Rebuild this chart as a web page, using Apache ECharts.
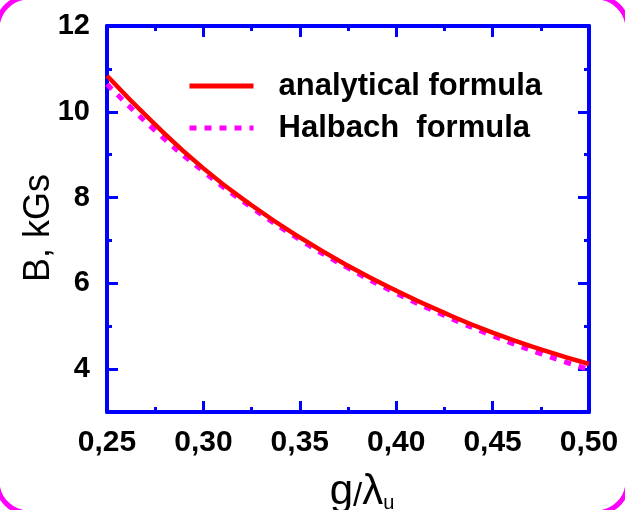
<!DOCTYPE html>
<html><head><meta charset="utf-8">
<script src="https://cdn.jsdelivr.net/npm/echarts@6/dist/echarts.min.js"></script>
<style>html,body{margin:0;padding:0;background:#fff}#c{width:625px;height:510px}</style>
</head><body><div id="c"></div>
<script>
// g / lambda_u values
const gOverLambda = [0.25, 0.275, 0.30, 0.325, 0.35, 0.375, 0.40, 0.425, 0.45, 0.475, 0.50];
// B, kGs
const analytical = [10.84, 9.70, 8.68, 7.82, 7.07, 6.41, 5.83, 5.31, 4.85, 4.46, 4.12];
const halbach    = [10.64, 9.56, 8.61, 7.77, 7.02, 6.36, 5.77, 5.25, 4.78, 4.36, 3.99];
const seriesNames = ['analytical formula', 'Halbach  formula'];
const yMajorTicks = [4, 6, 8, 10, 12];
const yMinorTicks = [5, 7, 9, 11];
const xMin = 0.25, xMax = 0.50, xStep = 0.05;
const yMin = 3, yMax = 12;

const blue = '#0000ff';
const font = 'Liberation Sans, Arial, sans-serif';
const pair = (xs, ys) => xs.map((x, i) => [x, ys[i]]);

function xAxisDef(pos, showLabel) {
  return {
    type: 'value', min: xMin, max: xMax, interval: xStep, position: pos,
    axisLine: { show: true, onZero: false, lineStyle: { color: blue, width: 4 } },
    axisTick: { show: true, inside: true, length: 11, lineStyle: { color: blue, width: 3 } },
    minorTick: { show: true, splitNumber: 2, length: 5, lineStyle: { color: blue, width: 3 } },
    splitLine: { show: false }, minorSplitLine: { show: false },
    axisLabel: {
      show: showLabel, showMinLabel: true, showMaxLabel: true,
      formatter: v => v.toFixed(2).replace('.', ','),
      color: '#000', fontSize: 30, fontWeight: 'bold', fontFamily: font, margin: 16
    }
  };
}
function yAxisDef(pos, ticks, len, showLine, showLabel) {
  return {
    type: 'value', min: yMin, max: yMax, position: pos,
    axisLine: { show: showLine, onZero: false, lineStyle: { color: blue, width: 4 } },
    axisTick: { show: true, inside: true, length: len, customValues: ticks, lineStyle: { color: blue, width: 3 } },
    splitLine: { show: false },
    axisLabel: {
      show: showLabel, customValues: ticks,
      color: '#000', fontSize: 29, fontWeight: 'bold', fontFamily: font, margin: 17
    }
  };
}

const xBottom = xAxisDef('bottom', true);
xBottom.name = '{g|g}{s|/}{g|λ}{u|u}';
xBottom.nameLocation = 'middle';
xBottom.nameGap = 55;
xBottom.nameMoveOverlap = false;
xBottom.nameTextStyle = {
  padding: [0, 0, 0, 28],
  rich: {
    g: { fontSize: 42, fontFamily: font, color: '#000', lineHeight: 46, verticalAlign: 'bottom' },
    s: { fontSize: 33, fontFamily: font, color: '#000', lineHeight: 43, verticalAlign: 'bottom' },
    u: { fontSize: 20, fontFamily: font, color: '#000', lineHeight: 18, verticalAlign: 'bottom' }
  }
};
const yLeft = yAxisDef('left', yMajorTicks, 11, true, true);
yLeft.name = 'B, kGs';
yLeft.nameLocation = 'middle';
yLeft.nameGap = 50;
yLeft.nameMoveOverlap = false;
yLeft.nameTextStyle = { fontSize: 36, fontFamily: font, color: '#000', padding: [0, 18, 0, 0] };

const chart = echarts.init(document.getElementById('c'), null, { renderer: 'canvas' });
chart.setOption({
  backgroundColor: '#fff',
  animation: false,
  grid: { left: 107, right: 36, top: 26, bottom: 98, containLabel: false, outerBoundsMode: 'none' },
  xAxis: [xBottom, xAxisDef('top', false)],
  yAxis: [
    yLeft,
    yAxisDef('right', yMajorTicks, 11, true, false),
    yAxisDef('left', yMinorTicks, 5, false, false),
    yAxisDef('right', yMinorTicks, 5, false, false)
  ],
  legend: {
    orient: 'vertical', left: 182, top: 64, itemWidth: 64, itemHeight: 14, itemGap: 8,
    itemStyle: { opacity: 0 },
    lineStyle: { width: 5 },
    textStyle: { fontSize: 31, fontWeight: 'bold', color: '#000', fontFamily: font, padding: [0, 0, 0, 20], lineHeight: 34 },
    data: seriesNames
  },
  series: [
    {
      name: seriesNames[1], type: 'line', data: pair(gOverLambda, halbach),
      smooth: true, symbol: 'none', z: 2,
      lineStyle: { color: '#ff00ff', width: 5, type: [7, 8] }, itemStyle: { color: '#ff00ff' }
    },
    {
      name: seriesNames[0], type: 'line', data: pair(gOverLambda, analytical),
      smooth: true, symbol: 'none', z: 3,
      lineStyle: { color: '#ff0000', width: 4.5 }, itemStyle: { color: '#ff0000' }
    }
  ],
  graphic: [{
    type: 'rect', silent: true, z: 100,
    shape: { x: -3, y: -3, width: 631, height: 516, r: 32 },
    style: { fill: 'none', stroke: '#ff00ff', lineWidth: 5 }
  }]
});
</script></body></html>
